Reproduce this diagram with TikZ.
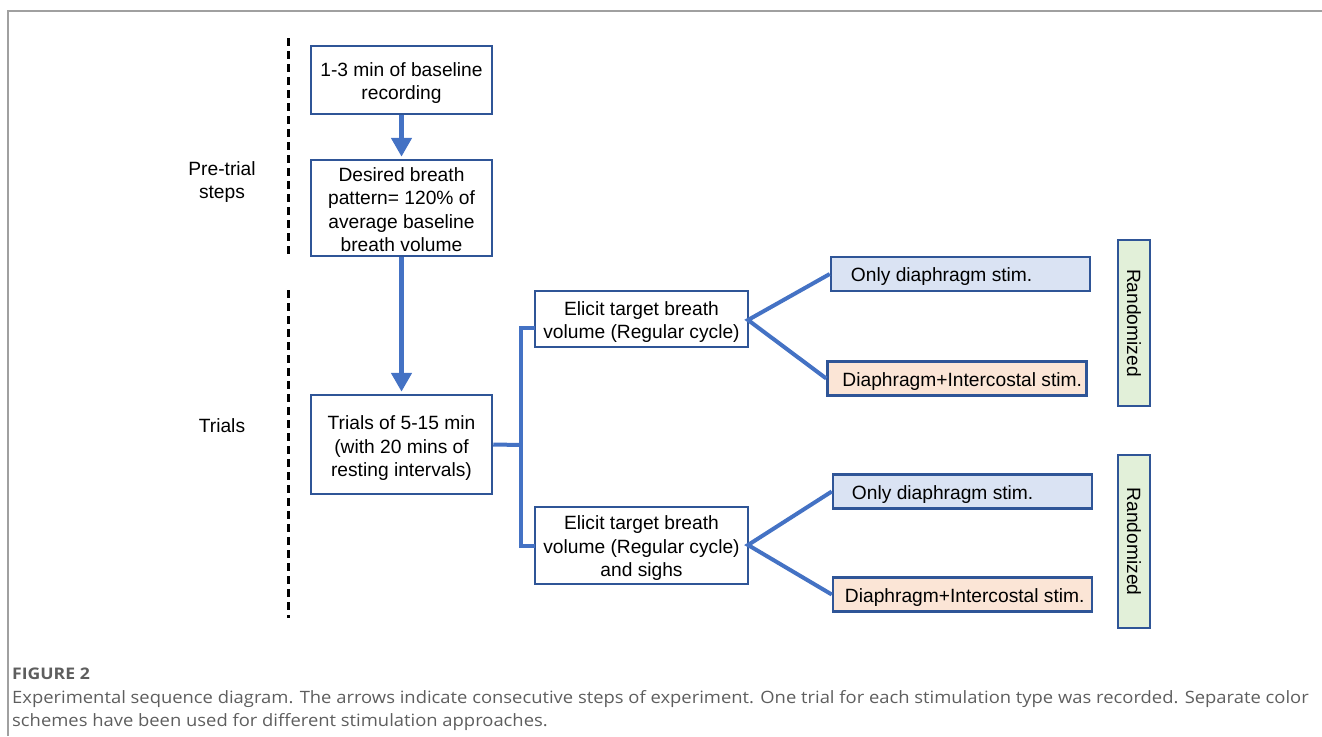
\documentclass[tikz,border=0pt]{standalone}
\usepackage{fontspec}
\setmainfont{Liberation Sans}
\newfontfamily\capfont{Open Sans}
\usetikzlibrary{arrows.meta}
\definecolor{bord}{HTML}{2F5597}
\definecolor{conn}{HTML}{4472C4}
\definecolor{fblue}{HTML}{DAE3F3}
\definecolor{forange}{HTML}{FBE5D6}
\definecolor{fgreen}{HTML}{E2F0D9}
\definecolor{capgray}{HTML}{5E5E5E}
\definecolor{framegray}{HTML}{A0A0A0}
\begin{document}
\begin{tikzpicture}[x=1pt,y=-1pt,
  font=\fontsize{19.2}{23.5}\selectfont,
  box/.style={draw=bord, line width=2.5pt, fill=white, inner sep=0pt},
  stimbox/.style={draw=bord, line width=2.5pt, inner sep=0pt, minimum width=259pt, minimum height=34pt},
  randbox/.style={draw=bord, line width=2.5pt, fill=fgreen, inner sep=0pt, rotate=-90, minimum height=32pt},
  txt/.style={align=center, inner sep=0pt},
  stimtxt/.style={anchor=west, inner sep=0pt},
  bigarrow/.style={draw=conn, line width=5pt, -{Triangle[width=20pt,length=19pt]}, shorten >=2pt},
  cline/.style={draw=conn, line width=4pt},
  phase/.style={draw=black, line width=3pt, dash pattern=on 8pt off 5pt},
  lbl/.style={align=center, inner sep=0pt},
  capstyle/.style={anchor=base west, inner sep=0pt, text=capgray, font=\capfont\fontsize{17}{20}\selectfont}
]
\useasboundingbox (0,0) rectangle (1322,736);

% frame
\draw[framegray, line width=1.5pt] (8,736) -- (8,11) -- (1322,11);

% phase separators
\draw[phase] (288,38) -- (288,255);
\draw[phase] (288,290) -- (288,618);
\node[lbl] (pre) at (222,182) {Pre-trial\\steps};
\node[lbl] (tri) at (222,426) {Trials};

% left column
\node[box, minimum width=181pt, minimum height=68pt] (B1) at (401.5,80) {};
\node[txt] (B1t) at ([yshift=-3pt]B1.center) {1-3 min of baseline\\recording};
\node[box, minimum width=181pt, minimum height=96pt] (B2) at (401.5,208) {};
\node[txt] (B2t) at ([yshift=-1.5pt]B2.center) {Desired breath\\pattern= 120\% of\\average baseline\\breath volume};
\node[box, minimum width=181pt, minimum height=99pt] (B3) at (401.5,444.5) {};
\node[txt] (B3t) at ([yshift=-4pt]B3.center) {Trials of 5-15 min\\(with 20 mins of\\resting intervals)};

\draw[bigarrow] (B1.south) -- (B2.north);
\draw[bigarrow] (B2.south) -- (B3.north);

% middle column
\node[box, minimum width=213pt, minimum height=56pt] (E1) at (641.5,319) {};
\node[txt] (E1t) at ([yshift=-3pt]E1.center) {Elicit target breath\\volume (Regular cycle)};
\node[box, minimum width=213pt, minimum height=77pt] (E2) at (641.5,545.5) {};
\node[txt] (E2t) at ([yshift=-3pt]E2.center) {Elicit target breath\\volume (Regular cycle)\\and sighs};

\coordinate (J) at (521,445);
\coordinate (E1in) at (535,328);
\coordinate (E2in) at (535,546);
\draw[cline] (B3.east) -- (J);
\draw[cline, line join=miter] (E1in) -- (521,328) -- (521,546) -- (E2in);

% stimulation boxes
\node[stimbox, fill=fblue] (D1) at (960.5,274) {};
\node[stimtxt] (D1t) at ([xshift=21pt,yshift=-3pt]D1.west) {Only diaphragm stim.};
\node[stimbox, fill=forange] (I1) at (957,378.5) {};
\node[stimtxt] (I1t) at ([xshift=16pt,yshift=-3pt]I1.west) {Diaphragm+Intercostal stim.};
\node[stimbox, fill=fblue] (D2) at (962.5,491.5) {};
\node[stimtxt] (D2t) at ([xshift=20pt,yshift=-3pt]D2.west) {Only diaphragm stim.};
\node[stimbox, fill=forange] (I2) at (962.5,594.5) {};
\node[stimtxt] (I2t) at ([xshift=13pt,yshift=-3pt]I2.west) {Diaphragm+Intercostal stim.};

\coordinate (E1out) at (748,320);
\coordinate (E2out) at (748,545);
\draw[cline, line join=miter] (D1.west) -- (E1out) -- (I1.west);
\draw[cline, line join=miter] (D2.west) -- (E2out) -- (I2.west);

% randomized boxes
\node[randbox, minimum width=166pt] (R1) at (1134,323) {Randomized};
\node[randbox, minimum width=173pt] (R2) at (1134,541.5) {Randomized};

% caption
\node[capstyle, font=\capfont\bfseries\fontsize{16}{18}\selectfont] (fig) at (12,679) {\scalebox{1.1}[1]{FIGURE 2}};
\node[capstyle] (cap1) at (12,703) {\scalebox{1.082}[1]{Experimental sequence diagram. The arrows indicate consecutive steps of experiment. One trial for each stimulation type was recorded. Separate color}};
\node[capstyle] (cap2) at (12,726) {\scalebox{1.082}[1]{schemes have been used for different stimulation approaches.}};
\end{tikzpicture}
\end{document}
